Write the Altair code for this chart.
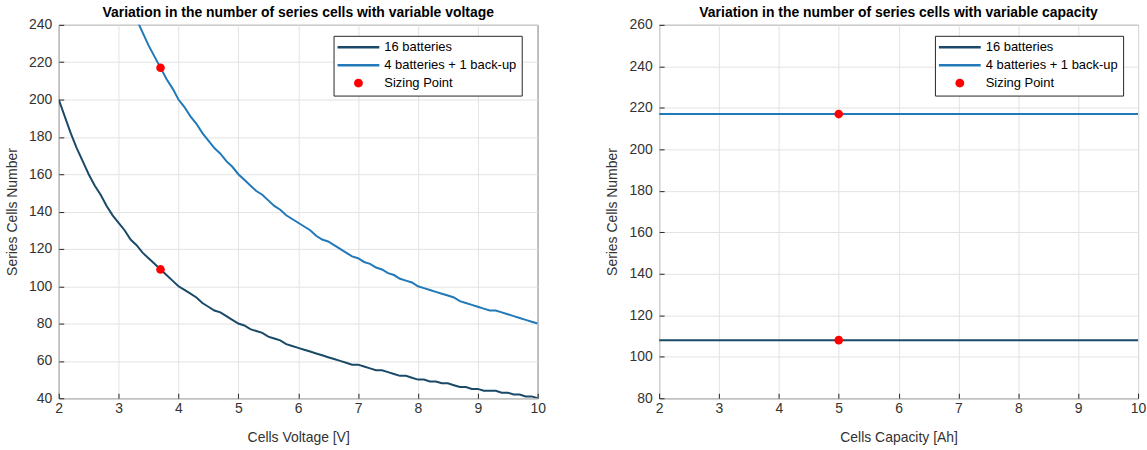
import altair as alt
import pandas as pd

# ---- data -------------------------------------------------------------
voltage = [2.0, 2.1, 2.2, 2.3, 2.4, 2.5, 2.6, 2.7, 2.8, 2.9,
           3.0, 3.1, 3.2, 3.3, 3.4, 3.5, 3.6, 3.7, 3.8, 3.9,
           4.0, 4.1, 4.2, 4.3, 4.4, 4.5, 4.6, 4.7, 4.8, 4.9,
           5.0, 5.1, 5.2, 5.3, 5.4, 5.5, 5.6, 5.7, 5.8, 5.9,
           6.0, 6.1, 6.2, 6.3, 6.4, 6.5, 6.6, 6.7, 6.8, 6.9,
           7.0, 7.1, 7.2, 7.3, 7.4, 7.5, 7.6, 7.7, 7.8, 7.9,
           8.0, 8.1, 8.2, 8.3, 8.4, 8.5, 8.6, 8.7, 8.8, 8.9,
           9.0, 9.1, 9.2, 9.3, 9.4, 9.5, 9.6, 9.7, 9.8, 9.9,
           10.0]

cells_16_v = [200, 191, 182, 174, 167, 160, 154, 149, 143, 138,
              134, 130, 125, 122, 118, 115, 112, 109, 106, 103,
              100, 98, 96, 94, 91, 89, 87, 86, 84, 82,
              80, 79, 77, 76, 75, 73, 72, 71, 69, 68,
              67, 66, 65, 64, 63, 62, 61, 60, 59, 58,
              58, 57, 56, 55, 55, 54, 53, 52, 52, 51,
              50, 50, 49, 49, 48, 48, 47, 46, 46, 45,
              45, 44, 44, 44, 43, 43, 42, 42, 41, 41,
              40]

cells_4p1_v = [400, 381, 364, 348, 334, 320, 308, 297, 286, 276,
               267, 259, 250, 243, 236, 229, 223, 217, 211, 206,
               200, 196, 191, 187, 182, 178, 174, 171, 167, 164,
               160, 157, 154, 151, 149, 146, 143, 141, 138, 136,
               134, 132, 130, 127, 125, 124, 122, 120, 118, 116,
               115, 113, 112, 110, 109, 107, 106, 104, 103, 102,
               100, 99, 98, 97, 96, 95, 94, 92, 91, 90,
               89, 88, 87, 87, 86, 85, 84, 83, 82, 81,
               80]

capacity = [2, 3, 4, 5, 6, 7, 8, 9, 10]
cells_16_c = [108, 108, 108, 108, 108, 108, 108, 108, 108]
cells_4p1_c = [217, 217, 217, 217, 217, 217, 217, 217, 217]

sizing_voltage = [3.7, 3.7]
sizing_cells_v = [109, 217]
sizing_capacity = [5, 5]
sizing_cells_c = [108, 217]

SERIES = ["16 batteries", "4 batteries + 1 back-up", "Sizing Point"]
COLORS = ["#1b4a68", "#2179b9", "#ff0000"]
# legend glyphs: a long flat bar for the lines, a dot centred under it
BAR = "M-1.68,-0.28H7.71V0.28H-1.68Z"
DOT = "M2.02,0A1,1 0 1,0 4.02,0A1,1 0 1,0 2.02,0Z"
GLYPHS = [BAR, BAR, DOT]

FONT = "Liberation Sans"
TEXT = "#333333"

# ---- tables -----------------------------------------------------------
volt_lines = pd.DataFrame({
    "x": voltage + voltage,
    "y": cells_16_v + cells_4p1_v,
    "series": [SERIES[0]] * len(voltage) + [SERIES[1]] * len(voltage),
})
volt_pts = pd.DataFrame({"x": sizing_voltage, "y": sizing_cells_v,
                         "series": [SERIES[2]] * 2})

cap_lines = pd.DataFrame({
    "x": capacity + capacity,
    "y": cells_16_c + cells_4p1_c,
    "series": [SERIES[0]] * len(capacity) + [SERIES[1]] * len(capacity),
})
cap_pts = pd.DataFrame({"x": sizing_capacity, "y": sizing_cells_c,
                        "series": [SERIES[2]] * 2})


def legend_box(lx, ly):
    return alt.Legend(
        title=None,
        orient="none",
        legendX=lx,
        legendY=ly,
        direction="vertical",
        fillColor="white",
        strokeColor="#262626",
        padding=5,
        rowPadding=4,
        labelFont=FONT,
        labelFontSize=13,
        labelColor="#000000",
        labelOffset=33,
        symbolSize=80,
        symbolStrokeWidth=0,
        symbolOpacity=1,
    )


def panel(lines, pts, x_title, y_min, y_max, title, lx, ly):
    x_scale = alt.Scale(domain=[2, 10], nice=False, zero=False)
    y_scale = alt.Scale(domain=[y_min, y_max], nice=False, zero=False)
    x_axis = alt.Axis(values=list(range(2, 11)), tickCount=20, format="d",
                      title=x_title, offset=-5, tickSize=5, labelPadding=3,
                      titlePadding=15, domain=False, labelFlush=False,
                      labelOverlap=False)
    y_axis = alt.Axis(values=list(range(y_min, y_max + 1, 20)), tickCount=20,
                      format="d", title="Series Cells Number", offset=-5,
                      tickSize=5, labelPadding=7, titlePadding=9, domain=False,
                      labelFlush=False, labelOverlap=False)
    color_scale = alt.Scale(domain=SERIES, range=COLORS)
    shape_scale = alt.Scale(domain=SERIES, range=GLYPHS)

    # transparent layer that only feeds the legend (colour + glyph)
    key_layer = alt.Chart(pts).mark_point(filled=True, opacity=0).encode(
        x=alt.X("x:Q", scale=x_scale, axis=x_axis),
        y=alt.Y("y:Q", scale=y_scale, axis=y_axis),
        color=alt.Color("series:N", scale=color_scale, legend=legend_box(lx, ly)),
        shape=alt.Shape("series:N", scale=shape_scale, legend=legend_box(lx, ly)),
    )
    line_layer = alt.Chart(lines).mark_line(strokeWidth=2, clip=True).encode(
        x="x:Q",
        y="y:Q",
        color=alt.Color("series:N", scale=color_scale, legend=legend_box(lx, ly)),
        detail="series:N",
    )
    point_layer = alt.Chart(pts).mark_point(
        filled=True, size=75, opacity=1, shape="circle", color=COLORS[2]
    ).encode(x="x:Q", y="y:Q")

    return alt.layer(key_layer, line_layer, point_layer).properties(
        width=481,
        height=375,
        title=alt.TitleParams(title, font=FONT, fontSize=14, fontWeight="bold",
                              color="#000000", offset=-2, anchor="middle"),
    )


left = panel(volt_lines, volt_pts, "Cells Voltage [V]", 40, 240,
             "Variation in the number of series cells with variable voltage",
             276, 11)
right = panel(cap_lines, cap_pts, "Cells Capacity [Ah]", 80, 260,
              "Variation in the number of series cells with variable capacity",
              277, 11)

chart = alt.hconcat(left, right, spacing=59).resolve_scale(
    color="independent", shape="independent"
).properties(
    padding={"left": 5, "top": 4, "right": 0, "bottom": 5},
    background="white",
).configure_view(
    stroke="#262626", strokeWidth=1
).configure_axis(
    labelFont=FONT, labelFontSize=14, labelColor=TEXT,
    titleFont=FONT, titleFontSize=14, titleColor=TEXT, titleFontWeight="normal",
    gridColor="#e3e3e3", gridWidth=1, tickColor="#262626",
)

chart.save("out.html", embed_options={"renderer": "svg", "actions": False})
